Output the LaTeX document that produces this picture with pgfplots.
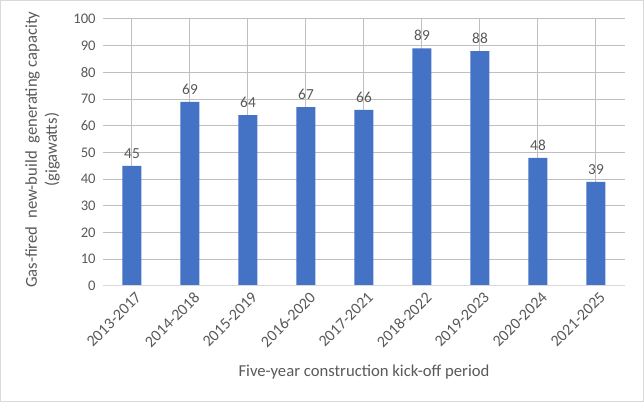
\documentclass[border=0pt]{standalone}
\usepackage{pgfplots}
\pgfplotsset{compat=1.18}
\usepackage{fontspec}
\setmainfont{Carlito}
\definecolor{barblue}{HTML}{4472C4}
\definecolor{txt}{HTML}{595959}
\definecolor{grid}{HTML}{D9D9D9}
\begin{document}
\begin{tikzpicture}
\draw[grid, line width=0.75pt] (0.375pt,0.375pt) rectangle (482.625pt,301.125pt);
\path[use as bounding box] (0pt,0pt) rectangle (483pt,301.5pt);
\begin{axis}[
  at={(77.25pt,87pt)}, anchor=south west,
  scale only axis, width=391.5pt, height=200.25pt,
  ymin=0, ymax=100, ytick={0,10,...,100},
  xmin=-0.5, xmax=8.5,
  xtick={0,...,8},
  xticklabels={2013-2017,2014-2018,2015-2019,2016-2020,2017-2021,2018-2022,2019-2023,2020-2024,2021-2025},
  tick label style={font=\fontsize{11}{13}\selectfont, text=txt},
  x tick label style={rotate=45, anchor=north east, inner sep=1pt, yshift=-3pt, font=\fontsize{12}{14}\selectfont},
  y tick label style={xshift=-2pt},
  ymajorgrids, grid style={grid, line width=0.75pt},
  axis line style={draw=none},
  axis x line*=bottom, axis y line*=left,
  major tick length=0pt,
  /pgf/number format/assume math mode=true,
  xlabel={Five-year construction kick-off period},
  ylabel={Gas-fired\hspace{3pt} new-build\hspace{3pt} generating capacity\\(gigawatts)},
  ylabel style={align=center, font=\fontsize{12.5}{15}\selectfont, text=txt,
    at={(axis description cs:-0.074,0.51)}, anchor=south},
  xlabel style={font=\fontsize{12.5}{14}\selectfont, text=txt,
    at={(axis description cs:0.5,0)}, anchor=center, yshift=-64.5pt},
  ybar, bar width=14.25pt,
  nodes near coords,
  nodes near coords style={font=\fontsize{11.5}{13}\selectfont, text=txt, yshift=2pt},
  clip=false,
]
\addplot[fill=barblue, draw=none] coordinates {(0,45) (1,69) (2,64) (3,67) (4,66) (5,89) (6,88) (7,48) (8,39)};
\draw[grid, line width=0.75pt] (axis cs:-0.5,0) -- (axis cs:8.5,0);
\end{axis}
\end{tikzpicture}
\end{document}
